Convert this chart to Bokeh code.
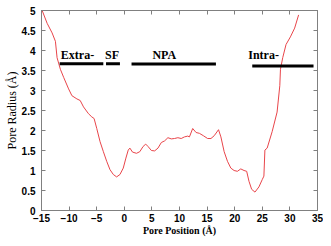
from bokeh.plotting import figure
from bokeh.models import LinearAxis, FixedTicker, ColumnDataSource
from bokeh.core.properties import value
from bokeh.embed import file_html
from bokeh.resources import INLINE

# Pore radius profile
pos = [-14.88, -13.98, -13.08, -12.48, -12.18, -11.58, -10.99, -10.09, -9.49, -8.59,
       -7.99, -7.39, -6.49, -5.89, -5.47, -4.99, -4.39, -3.79, -3.19, -2.59,
       -1.99, -1.39, -0.79, -0.19, 0.29, 0.71, 1.01, 1.49, 2.21, 2.81,
       3.40, 3.88, 4.30, 4.91, 5.50, 6.10, 6.71, 7.30, 7.90, 8.51,
       9.10, 9.70, 10.31, 10.90, 11.49, 11.80, 12.39, 13.0, 13.6, 14.32,
       15.09, 15.70, 16.29, 17.07, 17.50, 18.09, 18.69, 19.30, 19.89, 20.49,
       21.10, 21.69, 22.17, 22.59, 23.07, 23.67, 24.39, 24.98, 25.29, 25.47,
       25.88, 26.78, 27.68, 28.17, 28.29, 28.70, 29.30, 30.09, 30.86, 31.58]
radius = [5.0, 4.68, 4.44, 4.23, 3.82, 3.53, 3.33, 3.04, 2.87, 2.79,
          2.75, 2.59, 2.42, 2.34, 2.30, 2.05, 1.72, 1.47, 1.23, 1.02,
          0.90, 0.84, 0.90, 1.06, 1.31, 1.51, 1.56, 1.46, 1.43, 1.47,
          1.60, 1.66, 1.60, 1.50, 1.49, 1.56, 1.70, 1.74, 1.82, 1.79,
          1.80, 1.82, 1.80, 1.84, 1.86, 1.84, 2.05, 1.95, 1.93, 1.87,
          1.80, 1.80, 1.87, 2.02, 1.84, 1.47, 1.23, 1.06, 1.00, 0.98,
          1.04, 1.00, 0.98, 0.73, 0.53, 0.46, 0.59, 0.77, 0.86, 1.51,
          1.56, 1.97, 2.46, 3.12, 3.53, 3.82, 4.15, 4.34, 4.56, 4.89]

# Region annotations
region_names = ["Extra-", "SF", "NPA", "Intra-"]
region_x0 = [-11.71, -3.31, 1.31, 23.18]
region_x1 = [-3.80, -0.79, 16.60, 34.28]
region_bar_y = [3.67, 3.67, 3.66, 3.61]
label_x = [-11.5, -3.49, 5.09, 22.46]
label_y = [3.90, 3.90, 3.90, 3.90]

x_ticks = [-15, -10, -5, 0, 5, 10, 15, 20, 25, 30, 35]
y_ticks = [0, 0.5, 1, 1.5, 2, 2.5, 3, 3.5, 4, 4.5, 5]

p = figure(width=323, height=238, output_backend="svg", toolbar_location=None,
           x_range=(-15, 35), y_range=(0, 5),
           min_border_left=41, min_border_right=6, min_border_top=10, min_border_bottom=25)
p.grid.visible = False
p.outline_line_color = "#808080"
p.background_fill_color = "white"
p.border_fill_color = "white"

p.line(pos, radius, line_color="#e8454a", line_width=1)

p.segment(x0=region_x0, y0=region_bar_y, x1=region_x1, y1=region_bar_y,
          line_color="black", line_width=3)
src = ColumnDataSource(dict(x=label_x, y=label_y, t=region_names))
p.text(x="x", y="y", text="t", source=src, text_font=value("Liberation Serif"),
       text_font_style="bold", text_font_size="12px", text_color="black",
       text_align="left", text_baseline="alphabetic")

def style(ax, labels=True):
    ax.axis_line_color = "#808080"
    ax.major_tick_line_color = "#808080"
    ax.major_tick_in = 4
    ax.major_tick_out = 0
    ax.minor_tick_line_color = None
    if labels:
        ax.major_label_text_font = "Liberation Sans"
        ax.major_label_text_font_style = "bold"
        ax.major_label_text_font_size = "10px"
        ax.major_label_text_color = "black"
    else:
        ax.major_label_text_font_size = "0px"
        ax.major_label_text_color = None
        ax.major_label_standoff = 0

xa = p.xaxis[0]
xa.ticker = FixedTicker(ticks=x_ticks)
style(xa)
xa.major_label_standoff = 3
xa.axis_label = "Pore Position (Å)"
xa.axis_label_text_font = "Liberation Serif"
xa.axis_label_text_font_style = "bold"
xa.axis_label_text_font_size = "10px"
xa.axis_label_text_color = "black"
xa.axis_label_standoff = 0

ya = p.yaxis[0]
ya.ticker = FixedTicker(ticks=y_ticks)
style(ya)
ya.major_label_standoff = 6
ya.axis_label = "Pore Radius (Å)"
ya.axis_label_text_font = "Liberation Serif"
ya.axis_label_text_font_style = "normal"
ya.axis_label_text_font_size = "12px"
ya.axis_label_text_color = "black"
ya.axis_label_standoff = 0

top = LinearAxis(ticker=FixedTicker(ticks=x_ticks))
style(top, labels=False)
p.add_layout(top, "above")
right = LinearAxis(ticker=FixedTicker(ticks=y_ticks))
style(right, labels=False)
p.add_layout(right, "right")

open("out.html", "w").write(file_html(p, INLINE))
